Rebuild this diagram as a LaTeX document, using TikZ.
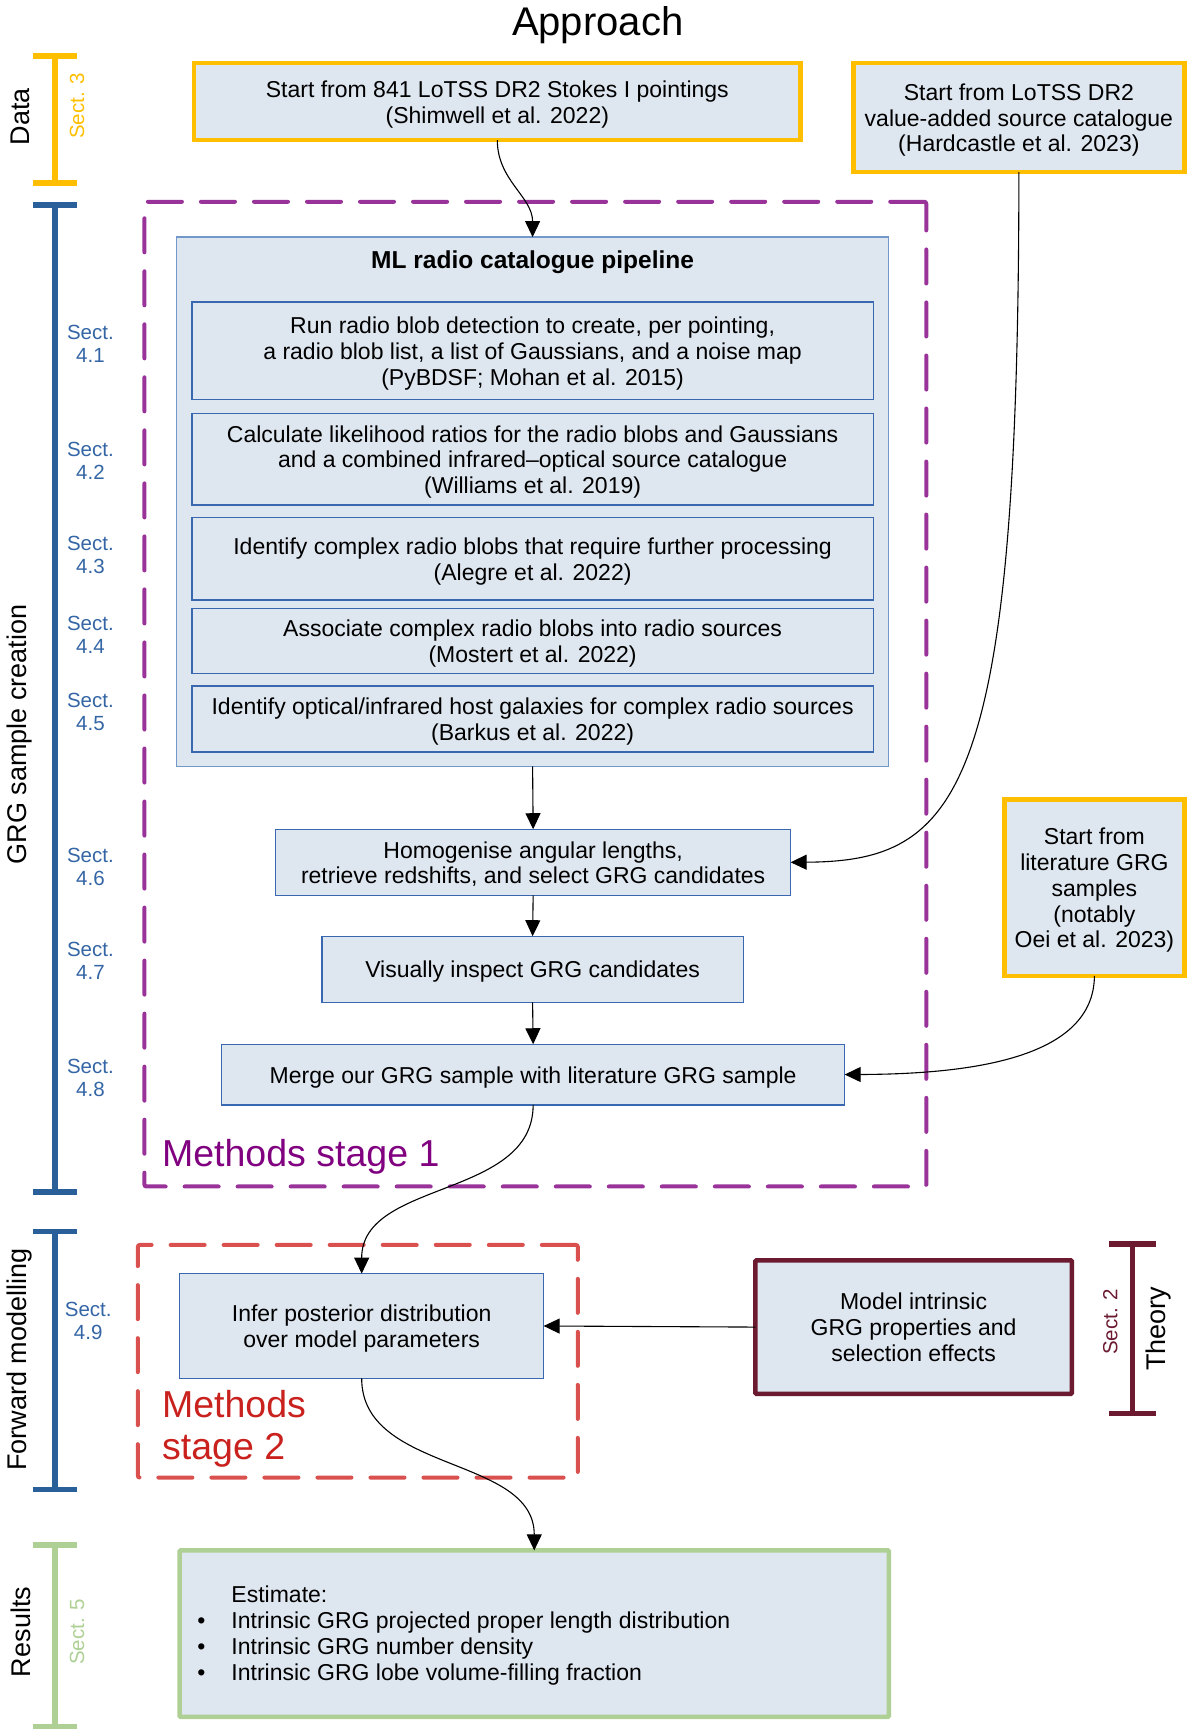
\documentclass[tikz,border=0pt]{standalone}
\usepackage{fontspec}
\setmainfont{Liberation Sans}
\usetikzlibrary{arrows.meta}
\definecolor{boxfill}{HTML}{DEE6EF}
\definecolor{ylw}{HTML}{FFBF00}
\definecolor{purp}{HTML}{993399}
\definecolor{purptext}{HTML}{800080}
\definecolor{reddash}{HTML}{D9504E}
\definecolor{redtext}{HTML}{C9211E}
\definecolor{darkred}{HTML}{6B1A30}
\definecolor{grn}{HTML}{AFD095}
\definecolor{bluebr}{HTML}{2A6099}
\definecolor{bluetext}{HTML}{3465A4}
\definecolor{innerblue}{HTML}{3A68B0}
\definecolor{outerblue}{HTML}{7297C9}
\newcommand{\bodyfont}{\fontsize{23}{25.8}\selectfont}
\newcommand{\sidefont}{\fontsize{27}{30}\selectfont}
\newcommand{\sectfont}{\fontsize{20.5}{23}\selectfont}
\newcommand{\stagefont}{\fontsize{37.5}{42}\selectfont}
\newcommand{\boxtext}[1]{\raisebox{-3.5pt}[\height][\depth]{\begin{tabular}{@{}c@{}}#1\end{tabular}}}
\begin{document}
\begin{tikzpicture}[x=1.1022pt,y=-1.1022pt,
  every node/.style={inner sep=0pt, outer sep=0pt},
  area/.style args={#1/#2/#3/#4}{minimum width={(#3-#1)*1.1022pt}, minimum height={(#4-#2)*1.1022pt}, at={({(#1+#3)/2},{(#2+#4)/2})}},
  basebox/.style={fill=boxfill, align=center, font=\bodyfont, text=black},
  ybox/.style={basebox, draw=ylw, line width=4.5pt},
  ibox/.style={basebox, draw=innerblue, line width=1.3pt},
  mlbox/.style={basebox, draw=outerblue, line width=1.3pt},
  drbox/.style={basebox, draw=darkred, line width=4.5pt, rounded corners=1pt},
  gbox/.style={basebox, draw=grn, line width=4.5pt, rounded corners=1pt},
  pdash/.style={draw=purp, line width=4pt, line cap=round, dash pattern=on 34pt off 19pt, rounded corners=2pt},
  rdash/.style={draw=reddash, line width=4pt, line cap=round, dash pattern=on 34pt off 19pt, rounded corners=2pt},
  sect/.style={align=center, font=\sectfont, text=bluetext},
  side/.style={rotate=90, font=\sidefont, text=black},
  bracket/.style={line width=5.5pt},
  arr/.style={-{Triangle[length=16pt,width=15pt]}, line width=1.1pt, black}
]
\useasboundingbox (0,0) rectangle (1076,1568);

% title
\node[font=\fontsize{40}{48}\selectfont] (title) at (542,23) {Approach};

% left brackets
\draw[bracket, ylw] (30,51) -- (70,51) (50,51) -- (50,166) (30,166) -- (70,166);
\node[side] (ldata) at (18,106) {Data};
\node[side, font=\sectfont, text=ylw] (s3) at (70,96) {Sect. 3};

\draw[bracket, bluebr] (30,186) -- (70,186) (50,186) -- (50,1081) (30,1081) -- (70,1081);
\node[side] (lgrg) at (18,666) {GRG sample creation};

\draw[bracket, bluebr] (30,1117) -- (70,1117) (50,1117) -- (50,1351) (30,1351) -- (70,1351);
\node[side] (lfwd) at (18,1233) {Forward modelling};

\draw[bracket, grn] (30,1401) -- (70,1401) (50,1401) -- (50,1566) (30,1566) -- (70,1566);
\node[side] (lres) at (19,1480) {Results};
\node[side, font=\sectfont, text=grn] (s5) at (70,1480) {Sect. 5};

% theory bracket
\draw[bracket, darkred] (1006,1128) -- (1048,1128) (1027,1128) -- (1027,1282) (1006,1282) -- (1048,1282);
\node[side, font=\sectfont, text=darkred] (s2) at (1007,1199) {Sect. 2};
\node[side] (ltheory) at (1051,1205) {Theory};

% section labels
\node[sect] (s41) at (82,311.5) {Sect.\\4.1};
\node[sect] (s42) at (82,417.5) {Sect.\\4.2};
\node[sect] (s43) at (82,503) {Sect.\\4.3};
\node[sect] (s44) at (82,575.5) {Sect.\\4.4};
\node[sect] (s45) at (82,645.5) {Sect.\\4.5};
\node[sect] (s46) at (82,786.5) {Sect.\\4.6};
\node[sect] (s47) at (82,871.5) {Sect.\\4.7};
\node[sect] (s48) at (82,978) {Sect.\\4.8};
\node[sect] (s49) at (80,1197.5) {Sect.\\4.9};

% data boxes
\node[ybox, area=176/57/726/127] (d1) {\boxtext{Start from 841 LoTSS DR2 Stokes I pointings\\(Shimwell et al. 2022)}};
\node[ybox, area=774/57/1074/156] (d2) {\boxtext{Start from LoTSS DR2\\value-added source catalogue\\(Hardcastle et al. 2023)}};
\node[ybox, area=911/725/1074/885] (lit) {\boxtext{Start from\\literature GRG\\samples\\(notably\\Oei et al. 2023)}};

% stage 1
\node[pdash, area=131/183/840/1076] (stage1) {};
\node[anchor=west, font=\stagefont, text=purptext] (st1lab) at (147,1049) {Methods stage 1};

\node[mlbox, area=160/215/806/695] (ml) {};
\node[font=\fontsize{24.5}{28}\selectfont\bfseries] (mltitle) at (483,237.5) {ML radio catalogue pipeline};

\node[ibox, area=174/274/792/362] (p1) {\boxtext{Run radio blob detection to create, per pointing,\\a radio blob list, a list of Gaussians, and a noise map\\(PyBDSF; Mohan et al. 2015)}};
\node[ibox, area=174/375/792/458] (p2) {\boxtext{Calculate likelihood ratios for the radio blobs and Gaussians\\and a combined infrared--optical source catalogue\\(Williams et al. 2019)}};
\node[ibox, area=174/469/792/544] (p3) {\boxtext{Identify complex radio blobs that require further processing\\(Alegre et al. 2022)}};
\node[ibox, area=174/552/792/611] (p4) {\boxtext{Associate complex radio blobs into radio sources\\(Mostert et al. 2022)}};
\node[ibox, area=174/622/792/682] (p5) {\boxtext{Identify optical/infrared host galaxies for complex radio sources\\(Barkus et al. 2022)}};

\node[ibox, area=250/752/717/812] (homog) {\boxtext{Homogenise angular lengths,\\retrieve redshifts, and select GRG candidates}};
\node[ibox, area=292/849/674/909] (visual) {\boxtext{Visually inspect GRG candidates}};
\node[ibox, area=201/947/766/1002] (merge) {\boxtext{Merge our GRG sample with literature GRG sample}};

% stage 2
\node[rdash, area=125/1129/524/1340] (stage2) {};
\node[anchor=west, align=left, font=\stagefont, text=redtext] (st2lab) at (147,1296) {Methods\\stage 2};
\node[ibox, area=163/1155/493/1250] (infer) {\boxtext{Infer posterior distribution\\over model parameters}};
\node[drbox, area=685/1143/972/1264] (model) {\boxtext{Model intrinsic\\GRG properties and\\selection effects}};

% results
\node[gbox, area=163/1406/806/1557] (res) {};
\node[anchor=west, font=\bodyfont] (restext) at (179,1484) {%
\begin{tabular}{@{}l@{\hspace{26pt}}l@{}}
 & Estimate:\\
\textbullet & Intrinsic GRG projected proper length distribution\\
\textbullet & Intrinsic GRG number density\\
\textbullet & Intrinsic GRG lobe volume-filling fraction
\end{tabular}};

% connectors
\draw[arr] (d1.south) to[out=-90,in=90] (ml.north);
\draw[arr] (d2.south) .. controls (924,720) and (870,781) .. (homog.east);
\draw[arr] (ml.south) -- (homog.north);
\draw[arr] (homog.south) -- (visual.north);
\draw[arr] (visual.south) -- (merge.north);
\draw[arr] (lit.south) .. controls (992,960) and (880,974) .. (merge.east);
\draw[arr] (merge.south) to[out=-90,in=90] (infer.north);
\draw[arr] (model.west) -- (infer.east);
\draw[arr] (infer.south) to[out=-90,in=90] (res.north);
\end{tikzpicture}
\end{document}
